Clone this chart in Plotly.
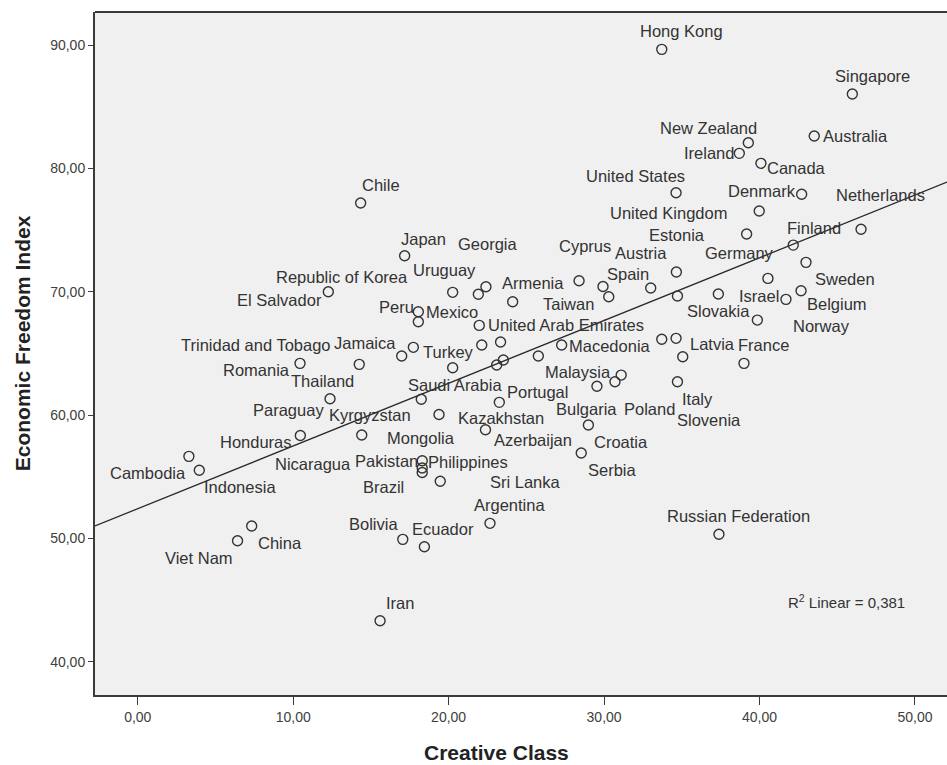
import numpy as np
import plotly.graph_objects as go

# ---- data: creative class share vs. economic freedom index ----
countries = [
    "Hong Kong", "Singapore", "New Zealand", "Ireland", "Australia", "Canada",
    "United States", "Denmark", "United Kingdom", "Netherlands", "Estonia", "Chile",
    "Japan", "Finland", "Sweden", "Austria", "Germany", "Cyprus", "", "Taiwan",
    "Spain", "", "Slovakia", "Belgium", "Norway", "Israel", "El Salvador",
    "Republic of Korea", "Uruguay", "Georgia", "Armenia", "Mexico", "Peru",
    "United Arab Emirates", "Jamaica", "Trinidad and Tobago", "", "", "Romania",
    "Thailand", "Turkey", "Saudi Arabia", "Portugal", "Malaysia", "Macedonia", "",
    "Latvia", "Slovenia", "France", "Paraguay", "Kyrgyzstan", "Kazakhstan",
    "Bulgaria", "Poland", "", "Italy", "Mongolia", "Honduras", "Nicaragua",
    "Azerbaijan", "Croatia", "Serbia", "Cambodia", "Indonesia", "Philippines",
    "Pakistan", "Brazil", "Sri Lanka", "Argentina", "China", "Viet Nam", "Bolivia",
    "Ecuador", "Iran", "Russian Federation",
]
creative_class = [
    33.71, 45.97, 39.28, 38.70, 43.52, 40.09,
    34.63, 42.71, 39.98, 46.53, 39.17, 14.34,
    17.17, 42.17, 42.99, 34.65, 40.54, 28.39, 33.00, 29.93,
    30.30, 34.72, 37.35, 42.67, 41.70, 39.86, 12.26,
    20.26, 21.91, 22.40, 24.12, 18.05, 18.05,
    21.97, 17.73, 16.98, 22.13, 23.34, 10.44,
    14.25, 20.26, 23.09, 23.52, 25.77, 27.27, 33.71,
    34.63, 35.06, 39.00, 12.37, 18.24, 23.26,
    29.54, 31.10, 30.70, 34.72, 19.38, 10.46, 14.41,
    22.37, 28.99, 28.53, 3.29, 3.96, 18.30,
    18.30, 18.30, 19.46, 22.66, 7.33, 6.42, 17.05,
    18.44, 15.59, 37.39,
]
freedom_index = [
    89.65, 86.03, 82.08, 81.22, 82.62, 80.41,
    78.03, 77.90, 76.54, 75.06, 74.68, 77.19,
    72.92, 73.78, 72.38, 71.60, 71.08, 70.89, 70.30, 70.42,
    69.59, 69.65, 69.81, 70.08, 69.38, 67.70, 70.00,
    69.95, 69.79, 70.40, 69.19, 68.38, 67.57,
    67.27, 65.49, 64.79, 65.68, 65.92, 64.19,
    64.11, 63.84, 64.06, 64.46, 64.79, 65.68, 66.14,
    66.22, 64.73, 64.19, 61.32, 61.28, 61.03,
    62.33, 63.24, 62.70, 62.70, 60.04, 58.34, 58.38,
    58.81, 59.19, 56.92, 56.65, 55.52, 56.29,
    55.34, 55.70, 54.63, 51.22, 51.00, 49.81, 49.92,
    49.32, 43.32, 50.33,
]
r_squared_text = "0,381"

x_ticks = [0, 10, 20, 30, 40, 50]
y_ticks = [40, 50, 60, 70, 80, 90]

# ---- label placement: pixel offset of each label from its marker ----
label_offset = {
    "Hong Kong": (20, -18), "Singapore": (20, -18), "New Zealand": (-40, -15),
    "Ireland": (-30, 0), "Australia": (41, 0), "Canada": (36, 5),
    "United States": (-41, -17), "Denmark": (-40, -3), "Netherlands": (19, -34),
    "United Kingdom": (-91, 2), "Estonia": (-70, 1), "Finland": (21, -17),
    "Germany": (-28, -25), "Cyprus": (6, -35), "Austria": (-35, -19),
    "Spain": (19, -23), "Sweden": (39, 17), "Israel": (2, -24),
    "Belgium": (36, 13), "Norway": (36, 27), "Taiwan": (-35, 17),
    "Slovakia": (0, 17), "Armenia": (20, -19), "El Salvador": (-49, 8),
    "Republic of Korea": (-111, -15), "Uruguay": (-34, -24), "Georgia": (2, -43),
    "Mexico": (34, 0), "Peru": (-22, -15), "United Arab Emirates": (87, 0),
    "Jamaica": (-48, -4), "Trinidad and Tobago": (-146, -11), "Turkey": (-4, -16),
    "Macedonia": (48, 1), "Latvia": (36, 6), "France": (20, -18),
    "Romania": (-44, 7), "Thailand": (-37, 17), "Malaysia": (40, 16),
    "Saudi Arabia": (-42, 20), "Portugal": (34, 32), "Italy": (20, 17),
    "Bulgaria": (-10, 23), "Poland": (28, 34), "Slovenia": (26, 63),
    "Croatia": (33, 17), "Serbia": (31, 17), "Azerbaijan": (48, 10),
    "Kazakhstan": (2, 16), "Kyrgyzstan": (-51, 16), "Paraguay": (-42, 11),
    "Mongolia": (-18, 23), "Honduras": (-44, 6), "Nicaragua": (-49, 29),
    "Cambodia": (-41, 17), "Indonesia": (41, 17), "Pakistan": (-36, -12),
    "Philippines": (46, 1), "Brazil": (-39, 19), "Sri Lanka": (85, 1),
    "Argentina": (20, -18), "China": (28, 17), "Viet Nam": (-39, 17),
    "Bolivia": (-29, -15), "Ecuador": (19, -18), "Iran": (20, -18),
    "Russian Federation": (20, -18), "Chile": (20, -18), "Japan": (19, -17),
}

FONT = "Liberation Sans, Arial, sans-serif"
INK = "#333333"
X_RANGE = [-2.75, 52.06]
Y_RANGE = [37.30, 92.68]

xs = np.array(creative_class)
ys = np.array(freedom_index)

# least-squares fit line across the visible x range
slope, intercept = np.polyfit(xs, ys, 1)
fit_x = np.array(X_RANGE)
fit_y = intercept + slope * fit_x

fig = go.Figure()
fig.add_trace(go.Scatter(
    x=fit_x, y=fit_y, mode="lines",
    line=dict(color="#2a2a2a", width=1.3), hoverinfo="skip", showlegend=False,
))
fig.add_trace(go.Scatter(
    x=xs, y=ys, mode="markers", text=countries,
    marker=dict(symbol="circle-open", size=10, color=INK, line=dict(width=1.4, color=INK)),
    hovertemplate="%{text}<br>%{x:.2f}, %{y:.2f}<extra></extra>", showlegend=False,
))

annotations = []
for name, x, y in zip(countries, creative_class, freedom_index):
    if not name:
        continue
    dx, dy = label_offset[name]
    annotations.append(dict(
        x=x, y=y, xref="x", yref="y", text=name, showarrow=False,
        xshift=dx, yshift=-dy, xanchor="center", yanchor="middle",
        font=dict(family=FONT, size=16.5, color=INK),
    ))

annotations.append(dict(
    x=0.8815, y=0.1366, xref="paper", yref="paper", showarrow=False,
    text="R<sup>2</sup> Linear = " + r_squared_text,
    xanchor="center", yanchor="middle", font=dict(family=FONT, size=15, color=INK),
))
annotations.append(dict(
    x=0.4718, y=-0.0835, xref="paper", yref="paper", showarrow=False,
    text="<b>Creative Class</b>", xanchor="center", yanchor="middle",
    font=dict(family=FONT, size=21, color="#222222"),
))
annotations.append(dict(
    x=-0.0857, y=0.515, xref="paper", yref="paper", showarrow=False,
    text="<b>Economic Freedom Index</b>", textangle=-90,
    xanchor="center", yanchor="middle",
    font=dict(family=FONT, size=21, color="#222222"),
))

axis_common = dict(
    showgrid=False, zeroline=False, showline=True, linecolor="#3a3a3a", linewidth=2,
    ticks="outside", tickcolor="#3a3a3a", tickwidth=1.2,
    tickformat=".2f", tickfont=dict(family=FONT, size=14, color="#404040"),
)

fig.update_layout(
    width=947, height=765,
    margin=dict(l=95, r=0, t=12, b=70),
    paper_bgcolor="white", plot_bgcolor="#f0f0f0",
    separators=",.",
    font=dict(family=FONT),
    xaxis=dict(range=X_RANGE, tickvals=x_ticks, ticklen=8, **axis_common),
    yaxis=dict(range=Y_RANGE, tickvals=y_ticks, ticklen=5, **axis_common),
    annotations=annotations,
    shapes=[dict(type="line", xref="paper", yref="paper", x0=0, x1=1, y0=1, y1=1,
                 line=dict(color="#3a3a3a", width=2))],
)

fig.write_html("out.html")
